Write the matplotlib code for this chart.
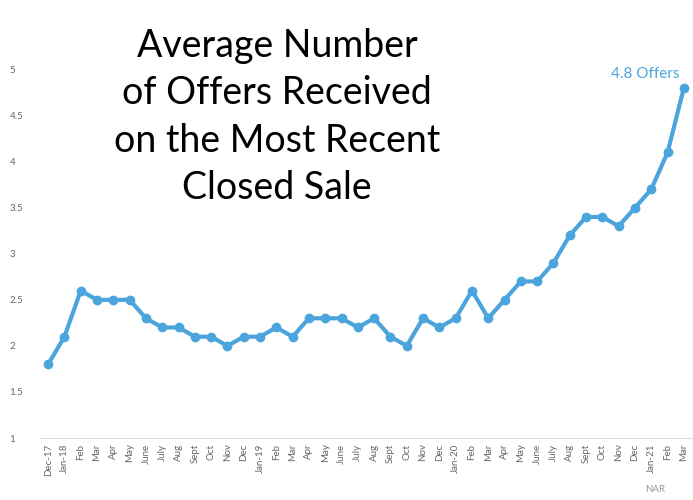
import matplotlib.pyplot as plt

months = ['Dec-17', 'Jan-18', 'Feb', 'Mar', 'Apr', 'May', 'June', 'July', 'Aug', 'Sept', 'Oct', 'Nov',
          'Dec', 'Jan-19', 'Feb', 'Mar', 'Apr', 'May', 'June', 'July', 'Aug', 'Sept', 'Oct', 'Nov',
          'Dec', 'Jan-20', 'Feb', 'Mar', 'Apr', 'May', 'June', 'July', 'Aug', 'Sept', 'Oct', 'Nov',
          'Dec', 'Jan-21', 'Feb', 'Mar']
offers = [1.8, 2.1, 2.6, 2.5, 2.5, 2.5, 2.3, 2.2, 2.2, 2.1, 2.1, 2.0,
          2.1, 2.1, 2.2, 2.1, 2.3, 2.3, 2.3, 2.2, 2.3, 2.1, 2.0, 2.3,
          2.2, 2.3, 2.6, 2.3, 2.5, 2.7, 2.7, 2.9, 3.2, 3.4, 3.4, 3.3,
          3.5, 3.7, 4.1, 4.8]
yticks = [1, 1.5, 2, 2.5, 3, 3.5, 4, 4.5, 5]

blue = '#4ba5dc'
plt.rcParams['font.family'] = ['Lato', 'DejaVu Sans']

fig = plt.figure(figsize=(6.93, 5), dpi=100)
ax = fig.add_axes([40 / 693, 0.124, 652 / 693, 0.816])
x = list(range(len(months)))
ax.plot(x, offers, color=blue, lw=3, marker='o', markersize=6)

ax.set_xlim(-0.5, len(months) - 0.5)
ax.set_ylim(1, 5.43)
ax.set_yticks(yticks)
ax.set_yticklabels([f'{v:g}' for v in yticks], fontsize=7, color='#666666', ha='left')
ax.set_xticks(x)
ax.set_xticklabels(months, rotation=90, fontsize=7, color='#666666')
ax.tick_params(length=0, pad=4)
ax.yaxis.set_tick_params(pad=22)
for s in ['top', 'right', 'left']:
    ax.spines[s].set_visible(False)
ax.spines['bottom'].set_color('#dddddd')

ax.annotate('4.8 Offers', (x[-1], offers[-1]), xytext=(-28, 5), textcoords='offset points',
            ha='center', va='bottom', color=blue, fontsize=11)
fig.text(0.40, 0.945, 'Average Number\nof Offers Received\non the Most Recent\nClosed Sale',
         ha='center', va='top', fontsize=27, linespacing=1.4, color='black')
fig.text(0.945, 0.012, 'NAR', fontsize=7, color='#999999', ha='center', va='bottom')

fig.savefig('out.png', dpi=100)
